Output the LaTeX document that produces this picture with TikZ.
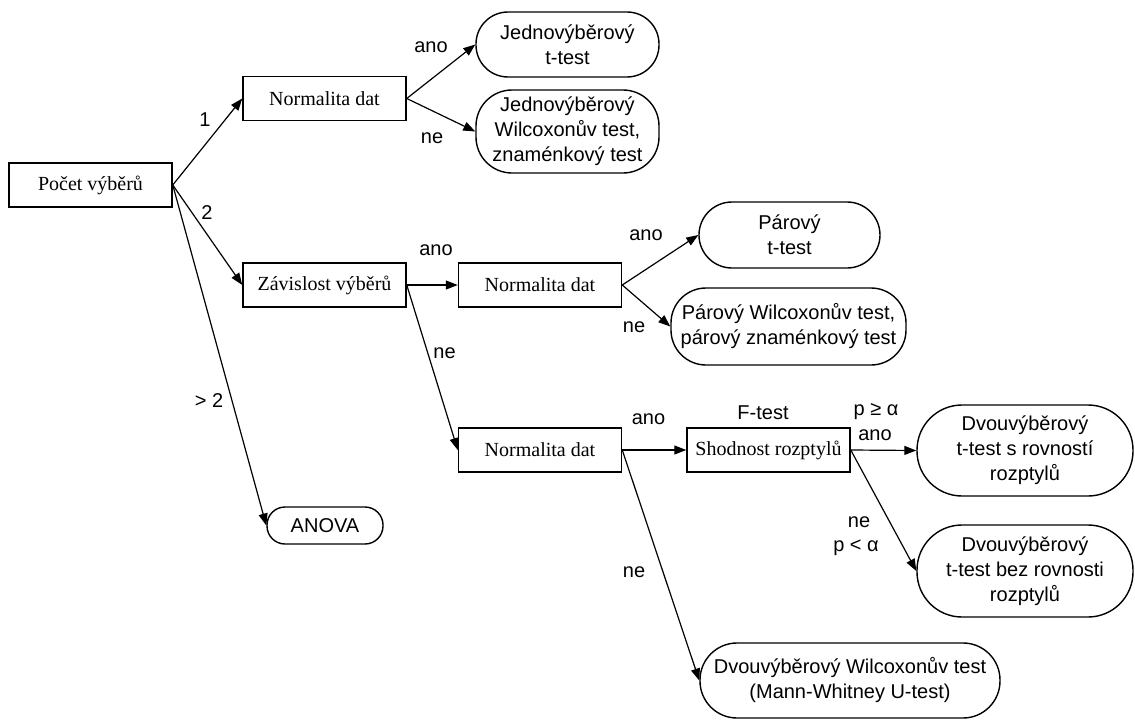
\documentclass[tikz,border=0pt]{standalone}
\usepackage{fontspec}
\setmainfont{Liberation Serif}
\newfontfamily\arialf{Liberation Sans}
\usetikzlibrary{arrows.meta}
\tikzset{
  sqbox/.style={draw, line width=1.5pt, rectangle, inner sep=0pt, align=center,
    font=\fontsize{20}{25}\selectfont},
  rbox/.style={draw, line width=1.4pt, rectangle, inner sep=0pt, align=center,
    font=\arialf\fontsize{20}{25}\selectfont},
  lbl/.style={inner sep=0pt, font=\arialf\fontsize{20}{24}\selectfont},
  arr/.style={line width=1.2pt, -{Triangle[length=12pt,width=9pt]}}
}
\begin{document}
\begin{tikzpicture}[x=1pt,y=-1pt]
\useasboundingbox (0,0) rectangle (1135,720);
% rectangular decision boxes
\node[sqbox, minimum width=163pt, minimum height=44pt] (pocet) at (90.5,185) {Počet výběrů};
\node[sqbox, minimum width=163pt, minimum height=44pt] (norm1) at (324.5,98.5) {Normalita dat};
\node[sqbox, minimum width=163pt, minimum height=44pt] (zav) at (324.5,285) {Závislost výběrů};
\node[sqbox, minimum width=163pt, minimum height=44pt] (norm2) at (540,285) {Normalita dat};
\node[sqbox, minimum width=163pt, minimum height=44pt] (norm3) at (540,450) {Normalita dat};
\node[sqbox, minimum width=163pt, minimum height=44pt] (shod) at (768.5,450) {Shodnost rozptylů};
% rounded result boxes
\node[rbox, rounded corners=32pt, minimum width=183pt, minimum height=65pt] (jt) at (567.5,44.5) {Jednovýběrový\\t-test};
\node[rbox, rounded corners=36pt, minimum width=183pt, minimum height=83pt] (jw) at (567.5,131.5) {Jednovýběrový\\Wilcoxonův test,\\znaménkový test};
\node[rbox, rounded corners=33pt, minimum width=181pt, minimum height=66pt] (pt) at (789.5,235) {Párový\\t-test};
\node[rbox, rounded corners=35pt, minimum width=235pt, minimum height=77pt] (pw) at (788.5,326.5) {Párový Wilcoxonův test,\\párový znaménkový test};
\node[rbox, rounded corners=45pt, minimum width=216pt, minimum height=91pt] (dr) at (1025,450.5) {Dvouvýběrový\\t-test s rovností\\rozptylů};
\node[rbox, rounded corners=45pt, minimum width=216pt, minimum height=92pt] (db) at (1025,571) {Dvouvýběrový\\t-test bez rovnosti\\rozptylů};
\node[rbox, rounded corners=18pt, minimum width=116pt, minimum height=37pt] (anova) at (325,525.5) {ANOVA};
\node[rbox, rounded corners=37pt, minimum width=300pt, minimum height=75pt] (mw) at (850,680.5) {Dvouvýběrový Wilcoxonův test\\(Mann-Whitney U-test)};
% connectors
\draw[arr] (pocet.east) -- (norm1.west);
\draw[arr] (pocet.east) -- (zav.west);
\draw[arr] (pocet.east) -- (anova.west);
\draw[arr] (norm1.east) -- (jt.west);
\draw[arr] (norm1.east) -- (jw.west);
\draw[arr] (zav.east) -- (norm2.west);
\draw[arr] (zav.east) -- (norm3.west);
\draw[arr] (norm2.east) -- (pt.west);
\draw[arr] (norm2.east) -- (pw.west);
\draw[arr] (norm3.east) -- (shod.west);
\draw[arr] (norm3.east) -- (mw.west);
\draw[arr] (shod.east) -- (dr.west);
\draw[arr] (shod.east) -- (db.west);
% labels
\node[lbl] (l1) at (205,120) {1};
\node[lbl] (l2) at (207,213) {2};
\node[lbl] (l3) at (209,401) {> 2};
\node[lbl] (l4) at (431,47) {ano};
\node[lbl] (l5) at (432,138) {ne};
\node[lbl] (l6) at (436,250) {ano};
\node[lbl] (l7) at (444.5,353) {ne};
\node[lbl] (l8) at (646,235) {ano};
\node[lbl] (l9) at (634,327) {ne};
\node[lbl] (l10) at (648.5,419) {ano};
\node[lbl] (l11) at (763,413) {F-test};
\node[lbl] (l12) at (876,412) {p ≥ α};
\node[lbl] (l13) at (875,435) {ano};
\node[lbl] (l14) at (859,522) {ne};
\node[lbl] (l15) at (856,548) {p < α};
\node[lbl] (l16) at (634,572) {ne};
\end{tikzpicture}
\end{document}
